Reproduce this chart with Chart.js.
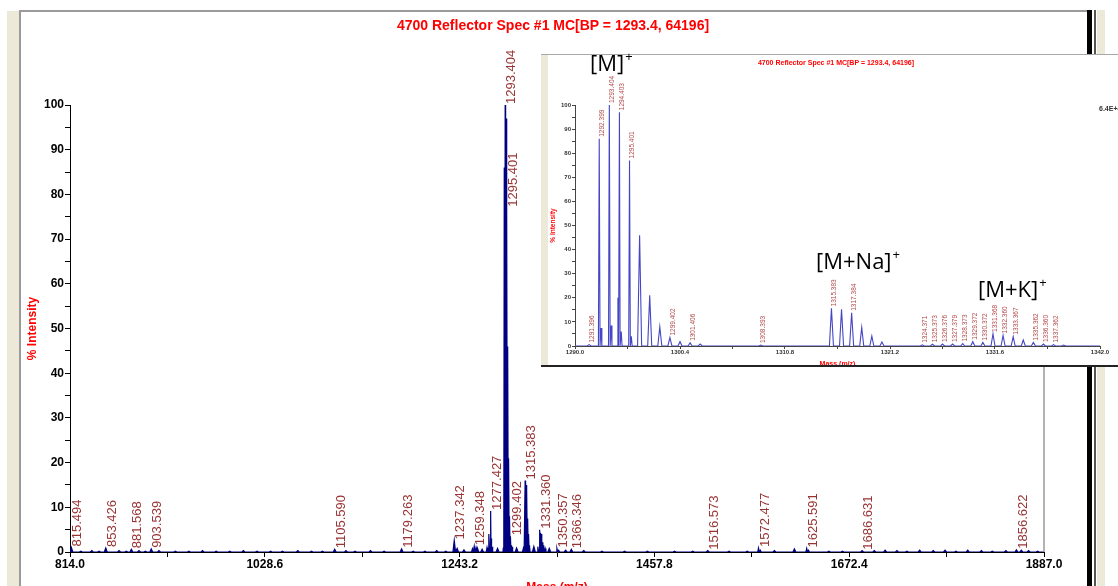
<!DOCTYPE html>
<html>
<head>
<meta charset="utf-8">
<title>4700 Reflector Spec #1</title>
<script src="https://cdn.jsdelivr.net/npm/chart.js@4.4.1/dist/chart.umd.min.js"></script>
<style>
  body { margin: 0; width: 1118px; height: 586px; overflow: hidden; background: #fff; position: relative; font-family: Arial, "Liberation Sans", sans-serif; }
  canvas, .box, .txt, .ion { position: absolute; }
  .beige { background: #ece9d8; }
  #mainChart { left: 0; top: 0; }
  #insetBox { left: 541px; top: 54px; width: 577px; height: 310px; background: #fff; border-top: 1px solid #a8a8a8; border-bottom: 2px solid #222; z-index: 2; }
  #insetChart { left: 548px; top: 55px; z-index: 3; }
  .txt { white-space: nowrap; transform: translateX(-50%); z-index: 4; }
  .ion { font-family: "Open Sans", sans-serif; font-size: 22px; line-height: 22px; color: #000; white-space: nowrap; z-index: 5; }
  .ion .sup { font-size: 13px; position: relative; top: -10px; margin-left: 1px; }
</style>
</head>
<body>
<canvas id="mainChart" width="1118" height="586"></canvas>

<!-- window frame -->
<div class="box beige" style="left:7px;top:11px;width:12px;height:575px"></div>
<div class="box" style="left:19px;top:11px;width:2px;height:575px;background:#9a9a9a"></div>
<div class="box" style="left:19px;top:10px;width:1068px;height:2px;background:#9a9a9a"></div>
<div class="box" style="left:1087px;top:10px;width:5px;height:576px;background:#000"></div>
<div class="box" style="left:1094px;top:10px;width:2px;height:576px;background:#555"></div>
<div class="box beige" style="left:1097px;top:10px;width:8px;height:576px"></div>

<div class="txt" style="left:553px;top:17px;font-weight:bold;font-size:14px;color:#f00">4700 Reflector Spec #1 MC[BP = 1293.4, 64196]</div>

<!-- inset screenshot -->
<div class="box" id="insetBox"></div>
<div class="box beige" style="left:541px;top:55px;width:7px;height:310px;z-index:3"></div>
<canvas id="insetChart" width="570" height="310"></canvas>
<div class="txt" style="left:836px;top:59px;font-weight:bold;font-size:7px;color:#f00">4700 Reflector Spec #1 MC[BP = 1293.4, 64196]</div>
<div class="txt" style="left:1099px;top:105px;transform:none;font-weight:bold;font-size:7px;color:#333">6.4E+4</div>

<div class="ion" style="left:590px;top:51px">[M]<span class="sup">+</span></div>
<div class="ion" style="left:816px;top:249px">[M+Na]<span class="sup">+</span></div>
<div class="ion" style="left:978px;top:277px">[M+K]<span class="sup">+</span></div>

<script>
const FONT = 'Arial, "Liberation Sans", sans-serif';

// main spectrum (m/z 814 - 1887)
const xTicks = [814.0, 921.3, 1028.6, 1135.9, 1243.2, 1350.5, 1457.8, 1565.1, 1672.4, 1779.7, 1887.0];
const xTickLabels = ['814.0', '', '1028.6', '', '1243.2', '', '1457.8', '', '1672.4', '', '1887.0'];
const yTicks = [0, 5, 10, 15, 20, 25, 30, 35, 40, 45, 50, 55, 60, 65, 70, 75, 80, 85, 90, 95, 100];
const yTickLabels = ['0', '', '10', '', '20', '', '30', '', '40', '', '50', '', '60', '', '70', '', '80', '', '90', '', '100'];

const mainPeakMz = [815.5, 853.4, 881.6, 903.5, 1105.6, 1179.3, 1237.3, 1240.5, 1257.3, 1259.3, 1261.3, 1263.3,
  1273.4, 1275.4, 1277.4, 1278.4, 1279.4, 1291.4, 1292.4, 1293.4, 1294.4, 1295.4, 1296.4, 1297.4, 1298.4,
  1299.4, 1300.4, 1301.4, 1313.4, 1315.4, 1316.4, 1317.4, 1318.4, 1319.4, 1320.4, 1329.4, 1331.4, 1332.4,
  1333.4, 1334.4, 1335.4, 1337.4, 1350.4, 1352.4, 1366.3, 1516.6, 1572.5, 1574.5, 1612.0, 1625.6, 1627.6,
  1686.6, 1856.6];
const mainPeakInt = [1.0, 0.9, 0.6, 0.7, 0.6, 0.7, 2.6, 0.8, 0.7, 1.3, 1.0, 0.6,
  1.0, 4.0, 9.2, 3.0, 1.2, 1.0, 86, 100, 97, 77, 46, 21, 8,
  3.5, 1.5, 1.2, 0.8, 16, 15, 14, 7.5, 4, 1.5, 1.2, 5.0, 4.3,
  4.0, 2.2, 1.5, 0.8, 0.8, 0.4, 0.6, 0.3, 0.9, 0.4, 0.7, 0.8, 0.4,
  0.3, 0.5];
const noiseMz = [826, 838, 846, 868, 876, 890, 897, 912, 930, 945, 960, 975, 990, 1005, 1020, 1035, 1048, 1065,
  1080, 1092, 1118, 1128, 1145, 1160, 1192, 1205, 1218, 1228, 1248, 1268, 1285, 1306, 1325, 1342, 1360, 1380,
  1400, 1425, 1450, 1480, 1500, 1540, 1560, 1590, 1650, 1665, 1700, 1712, 1725, 1736, 1750, 1765, 1778, 1790,
  1803, 1818, 1830, 1845, 1862, 1870, 1880];
const noiseInt = [0.2, 0.3, 0.2, 0.3, 0.2, 0.3, 0.2, 0.3, 0.2, 0.2, 0.3, 0.2, 0.2, 0.3, 0.2, 0.2, 0.2, 0.3,
  0.2, 0.2, 0.3, 0.2, 0.3, 0.2, 0.2, 0.2, 0.3, 0.2, 0.5, 0.6, 0.8, 0.9, 1.2, 0.8, 0.4, 0.3,
  0.2, 0.2, 0.2, 0.2, 0.2, 0.2, 0.2, 0.3, 0.2, 0.2, 0.3, 0.4, 0.3, 0.2, 0.4, 0.3, 0.4, 0.2,
  0.4, 0.3, 0.2, 0.3, 0.4, 0.3, 0.2];
const mainLabels = ['815.494', '853.426', '881.568', '903.539', '1105.590', '1179.263', '1237.342', '1259.348',
  '1277.427', '1293.404', '1295.401', '1299.402', '1315.383', '1331.360', '1350.357', '1366.346', '1516.573',
  '1572.477', '1625.591', '1686.631', '1856.622'];

// inset: zoom on m/z 1290 - 1342
const insetXTicks = [1290.0, 1295.2, 1300.4, 1305.6, 1310.8, 1316.0, 1321.2, 1326.4, 1331.6, 1336.8, 1342.0];
const insetXTickLabels = ['1290.0', '', '1300.4', '', '1310.8', '', '1321.2', '', '1331.6', '', '1342.0'];
const insetMz = [1291.4, 1292.4, 1292.58, 1293.4, 1293.58, 1294.25, 1294.4, 1294.58, 1295.4, 1295.58, 1296.4,
  1297.4, 1298.4, 1299.4, 1300.4, 1301.4, 1302.4, 1308.4, 1315.4, 1316.4, 1317.4, 1318.4, 1319.4, 1320.4,
  1324.4, 1325.4, 1326.4, 1327.4, 1328.4, 1329.4, 1330.4, 1331.4, 1332.4, 1333.4, 1334.4, 1335.4, 1336.4,
  1337.4, 1338.4];
const insetInt = [0.6, 86, 7.5, 100, 8.5, 20, 97, 6, 77, 4, 46,
  21, 8, 3.5, 1.8, 1.3, 0.8, 0.4, 15.6, 15.2, 13.8, 7.7, 4.1, 1.7,
  0.5, 0.7, 0.8, 0.8, 1.0, 1.8, 1.5, 5.0, 4.4, 3.9, 2.5, 1.5, 0.8,
  0.6, 0.4];
const insetLabels = ['1291.396', '1292.399', '1293.404', '1294.403', '1295.401', '1299.402', '1301.406',
  '1308.393', '1315.383', '1317.384', '1324.371', '1325.373', '1326.376', '1327.379', '1328.373', '1329.372',
  '1330.372', '1331.368', '1332.360', '1333.367', '1335.362', '1336.360', '1337.362'];

// turn centroid list into a thin triangular profile
function buildProfile(mz, inten, maxHw, xMin, xMax) {
  const order = mz.map((m, i) => i).sort((a, b) => mz[a] - mz[b]);
  const pts = [{ x: xMin, y: 0 }];
  order.forEach((i, k) => {
    const m = mz[i];
    const prev = k > 0 ? mz[order[k - 1]] : -Infinity;
    const next = k < order.length - 1 ? mz[order[k + 1]] : Infinity;
    const hw = Math.min(maxHw, 0.45 * (m - prev), 0.45 * (next - m));
    pts.push({ x: m - hw, y: 0 }, { x: m, y: inten[i] }, { x: m + hw, y: 0 });
  });
  pts.push({ x: xMax, y: 0 });
  return pts;
}

function nearestHeight(mz, inten, m) {
  let best = 0;
  mz.forEach((v, i) => { if (Math.abs(v - m) < Math.abs(mz[best] - m)) best = i; });
  return inten[best];
}

function peakLabelPlugin(cfg) {
  return {
    id: 'peakLabels',
    afterDatasetsDraw(chart) {
      const { ctx, scales: { x, y } } = chart;
      const floor = y.getPixelForValue(0) - cfg.floorGap;
      ctx.save();
      ctx.fillStyle = cfg.color;
      ctx.font = cfg.font;
      ctx.textAlign = 'left';
      ctx.textBaseline = 'middle';
      cfg.labels.forEach(txt => {
        const m = parseFloat(txt);
        const h = nearestHeight(cfg.mz, cfg.inten, m);
        const px = x.getPixelForValue(m) + cfg.dx;
        const py = Math.min(y.getPixelForValue(h) - cfg.gap, floor);
        ctx.save();
        ctx.translate(px, py);
        ctx.rotate(-Math.PI / 2);
        ctx.fillText(txt, 0, 0);
        ctx.restore();
      });
      ctx.restore();
    }
  };
}

const rightEdge = {
  id: 'rightEdge',
  afterDraw(chart) {
    const { ctx, chartArea } = chart;
    ctx.save();
    ctx.strokeStyle = '#9a9a9a';
    ctx.lineWidth = 1.5;
    ctx.beginPath();
    ctx.moveTo(chartArea.right, chartArea.top);
    ctx.lineTo(chartArea.right, chartArea.bottom);
    ctx.stroke();
    ctx.restore();
  }
};

function axis(opts) {
  return {
    type: 'linear',
    min: opts.min,
    max: opts.max,
    afterBuildTicks: s => { s.ticks = opts.ticks.map(v => ({ value: v })); },
    afterFit: opts.fit,
    ticks: {
      autoSkip: false, maxRotation: 0, padding: opts.pad, color: opts.tickColor,
      font: { family: FONT, size: opts.tickSize, weight: 'bold' },
      callback: (v, i) => opts.labels[i]
    },
    grid: { drawOnChartArea: false, tickLength: opts.tickLength, tickColor: opts.lineColor },
    border: { color: opts.lineColor, width: 1 },
    title: {
      display: true, text: opts.title, color: '#ff0000',
      font: { family: FONT, size: opts.titleSize, weight: 'bold' },
      padding: opts.titlePad
    }
  };
}

const mainMz = mainPeakMz.concat(noiseMz);
const mainInt = mainPeakInt.concat(noiseInt);

new Chart(document.getElementById('mainChart'), {
  type: 'line',
  data: {
    datasets: [{
      data: buildProfile(mainMz, mainInt, 1.6, 814, 1887),
      borderColor: '#000080',
      backgroundColor: '#000080',
      borderWidth: 1.2,
      pointRadius: 0,
      fill: 'origin',
      tension: 0
    }]
  },
  options: {
    responsive: false,
    animation: false,
    events: [],
    layout: { padding: { left: 20, right: 74, top: 105, bottom: 0 } },
    plugins: { legend: { display: false }, tooltip: { enabled: false } },
    scales: {
      x: axis({ min: 814, max: 1887, ticks: xTicks, labels: xTickLabels, fit: s => { s.height = 34; },
        pad: 0, tickColor: '#000', tickSize: 12, tickLength: 5, lineColor: '#000',
        title: 'Mass (m/z)', titleSize: 12, titlePad: { top: 0, bottom: -9 } }),
      y: axis({ min: 0, max: 100, ticks: yTicks, labels: yTickLabels, fit: s => { s.width = 50; },
        pad: 1, tickColor: '#000', tickSize: 12, tickLength: 5, lineColor: '#000',
        title: '% Intensity', titleSize: 12, titlePad: { top: 5, bottom: 0 } })
    }
  },
  plugins: [
    peakLabelPlugin({ labels: mainLabels, mz: mainPeakMz, inten: mainPeakInt, dx: 6.5, gap: 1, floorGap: 2,
      color: '#993333', font: '13px ' + FONT }),
    rightEdge
  ]
});

new Chart(document.getElementById('insetChart'), {
  type: 'line',
  data: {
    datasets: [{
      data: buildProfile(insetMz, insetInt, 0.2, 1290, 1342),
      borderColor: '#4646c4',
      borderWidth: 1.1,
      pointRadius: 0,
      fill: false,
      tension: 0
    }]
  },
  options: {
    responsive: false,
    animation: false,
    events: [],
    layout: { padding: { left: 0, right: 18, top: 50, bottom: 0 } },
    plugins: { legend: { display: false }, tooltip: { enabled: false } },
    scales: {
      x: axis({ min: 1290, max: 1342, ticks: insetXTicks, labels: insetXTickLabels, fit: s => { s.height = 19; },
        pad: 0, tickColor: '#333', tickSize: 6, tickLength: 3, lineColor: '#444',
        title: 'Mass (m/z)', titleSize: 7, titlePad: { top: 0, bottom: -3 } }),
      y: axis({ min: 0, max: 100, ticks: yTicks, labels: yTickLabels, fit: s => { s.width = 27; },
        pad: 1, tickColor: '#333', tickSize: 6, tickLength: 3, lineColor: '#444',
        title: '% Intensity', titleSize: 6.5, titlePad: { top: 1, bottom: 0 } })
    }
  },
  plugins: [
    peakLabelPlugin({ labels: insetLabels, mz: insetMz, inten: insetInt, dx: 3, gap: 2, floorGap: 3,
      color: '#b04848', font: '6.5px ' + FONT })
  ]
});
</script>
</body>
</html>
